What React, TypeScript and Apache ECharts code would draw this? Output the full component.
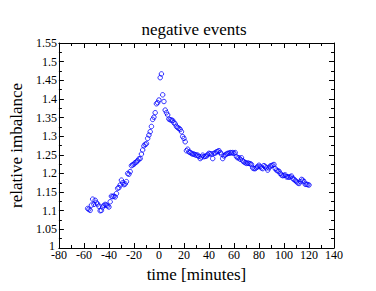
import React, { useEffect, useRef } from "react";
import * as echarts from "echarts";

const times: number[] = [
  -57, -56, -55, -54, -53, -52, -51, -50, -49, -48,
  -47, -46, -45, -44, -43, -42, -41, -40, -39, -38,
  -37, -36, -35, -34, -33, -32, -31, -30, -29, -28,
  -27, -26, -25, -24, -23, -22, -21, -20, -19, -18,
  -17, -16, -15, -14, -13, -12, -11, -10, -9, -8,
  -7, -6, -5, -4, -3, -2, -1, 0, 1, 2,
  3, 4, 5, 6, 7, 8, 9, 10, 11, 12,
  13, 14, 15, 16, 17, 18, 19, 20, 21, 22,
  23, 24, 25, 26, 27, 28, 29, 30, 31, 32,
  33, 34, 35, 36, 37, 38, 39, 40, 41, 42,
  43, 44, 45, 46, 47, 48, 49, 50, 51, 52,
  53, 54, 55, 56, 57, 58, 59, 60, 61, 62,
  63, 64, 65, 66, 67, 68, 69, 70, 71, 72,
  73, 74, 75, 76, 77, 78, 79, 80, 81, 82,
  83, 84, 85, 86, 87, 88, 89, 90, 91, 92,
  93, 94, 95, 96, 97, 98, 99, 100, 101, 102,
  103, 104, 105, 106, 107, 108, 109, 110, 111, 112,
  113, 114, 115, 116, 117, 118, 119, 120,
];

const imbalance: number[] = [
  1.106, 1.104, 1.101, 1.115, 1.131, 1.117, 1.128, 1.121, 1.118, 1.112,
  1.100, 1.101, 1.110, 1.114, 1.117, 1.115, 1.113, 1.110, 1.124, 1.139,
  1.138, 1.139, 1.137, 1.146, 1.160, 1.162, 1.169, 1.182, 1.175, 1.170,
  1.172, 1.178, 1.200, 1.198, 1.205, 1.221, 1.223, 1.225, 1.229, 1.231,
  1.234, 1.239, 1.240, 1.252, 1.263, 1.274, 1.278, 1.280, 1.294, 1.303,
  1.312, 1.326, 1.345, 1.351, 1.363, 1.387, 1.390, 1.397, 1.457, 1.467,
  1.411, 1.393, 1.370, 1.363, 1.357, 1.346, 1.344, 1.343, 1.342, 1.336,
  1.333, 1.326, 1.323, 1.321, 1.318, 1.312, 1.299, 1.294, 1.285, 1.261,
  1.265, 1.258, 1.256, 1.254, 1.252, 1.252, 1.250, 1.249, 1.249, 1.246,
  1.240, 1.244, 1.249, 1.245, 1.246, 1.247, 1.250, 1.254, 1.253, 1.252,
  1.240, 1.254, 1.255, 1.258, 1.259, 1.261, 1.256, 1.252, 1.240, 1.247,
  1.250, 1.252, 1.254, 1.254, 1.256, 1.255, 1.256, 1.254, 1.256, 1.245,
  1.242, 1.242, 1.238, 1.242, 1.234, 1.231, 1.229, 1.227, 1.228, 1.227,
  1.226, 1.224, 1.215, 1.213, 1.213, 1.216, 1.218, 1.222, 1.218, 1.215,
  1.213, 1.221, 1.218, 1.215, 1.209, 1.215, 1.220, 1.221, 1.222, 1.224,
  1.213, 1.209, 1.207, 1.206, 1.200, 1.196, 1.194, 1.195, 1.196, 1.191,
  1.191, 1.190, 1.191, 1.193, 1.187, 1.184, 1.181, 1.178, 1.175, 1.173,
  1.178, 1.184, 1.182, 1.178, 1.171, 1.171, 1.170, 1.169,
];

const FONT = "Liberation Serif";

export default function App() {
  const ref = useRef<HTMLDivElement>(null);
  useEffect(() => {
    if (!ref.current) return;
    const chart = echarts.init(ref.current, null, { renderer: "svg" });
    const data = times.map((t, i) => [t, imbalance[i]]);
    const axisLine = { show: true, onZero: false, lineStyle: { color: "#000", width: 1 } };
    const axisTick = { show: true, inside: true, length: 5, lineStyle: { color: "#000" } };
    const minorTick = { show: true, splitNumber: 2, length: 3, lineStyle: { color: "#000" } };
    chart.setOption({
      animation: false,
      backgroundColor: "#fff",
      title: {
        text: "negative events",
        left: 189,
        textAlign: "center",
        top: 16,
        textStyle: { fontFamily: FONT, fontSize: 17, fontWeight: "normal", color: "#000" },
      },
      grid: { left: 43, right: 42, top: 43, bottom: 43 },
      xAxis: [
        {
          type: "value",
          min: -80,
          max: 140,
          interval: 20,
          name: "time [minutes]",
          nameLocation: "middle",
          nameGap: 14,
          nameTextStyle: { fontFamily: FONT, fontSize: 17, color: "#000" },
          axisLine,
          axisTick,
          minorTick,
          splitLine: { show: false },
          axisLabel: { fontFamily: FONT, fontSize: 12, color: "#000", margin: 1 },
        },
        {
          type: "value",
          position: "top",
          min: -80,
          max: 140,
          interval: 20,
          axisLine,
          axisTick,
          minorTick,
          splitLine: { show: false },
          axisLabel: { show: false },
        },
      ],
      yAxis: [
        {
          type: "value",
          min: 1,
          max: 1.55,
          interval: 0.05,
          name: "relative imbalance",
          nameLocation: "middle",
          nameGap: 31,
          nameTextStyle: { fontFamily: FONT, fontSize: 17, color: "#000" },
          axisLine,
          axisTick,
          minorTick,
          splitLine: { show: false },
          axisLabel: {
            fontFamily: FONT,
            fontSize: 12,
            color: "#000",
            margin: 2,
            formatter: (v: number) => {
              const s = String(parseFloat(v.toFixed(2)));
              return v < 1.001 ? "{low|" + s + "}" : s;
            },
            rich: {
              low: { fontFamily: FONT, fontSize: 12, color: "#000", padding: [0, 2, 5, 0] },
            },
          },
        },
        {
          type: "value",
          position: "right",
          min: 1,
          max: 1.55,
          interval: 0.05,
          axisLine,
          axisTick,
          minorTick,
          splitLine: { show: false },
          axisLabel: { show: false },
        },
      ],
      series: [
        {
          type: "scatter",
          xAxisIndex: 0,
          yAxisIndex: 0,
          data,
          symbol: "circle",
          symbolSize: 4.5,
          itemStyle: { color: "rgba(0,0,0,0)", borderColor: "#0000ff", borderWidth: 1 },
        },
      ],
    });
    return () => chart.dispose();
  }, []);
  return (
    <div
      ref={ref}
      style={{ position: "fixed", left: 0, top: 0, width: 376, height: 291, background: "#fff" }}
    />
  );
}
